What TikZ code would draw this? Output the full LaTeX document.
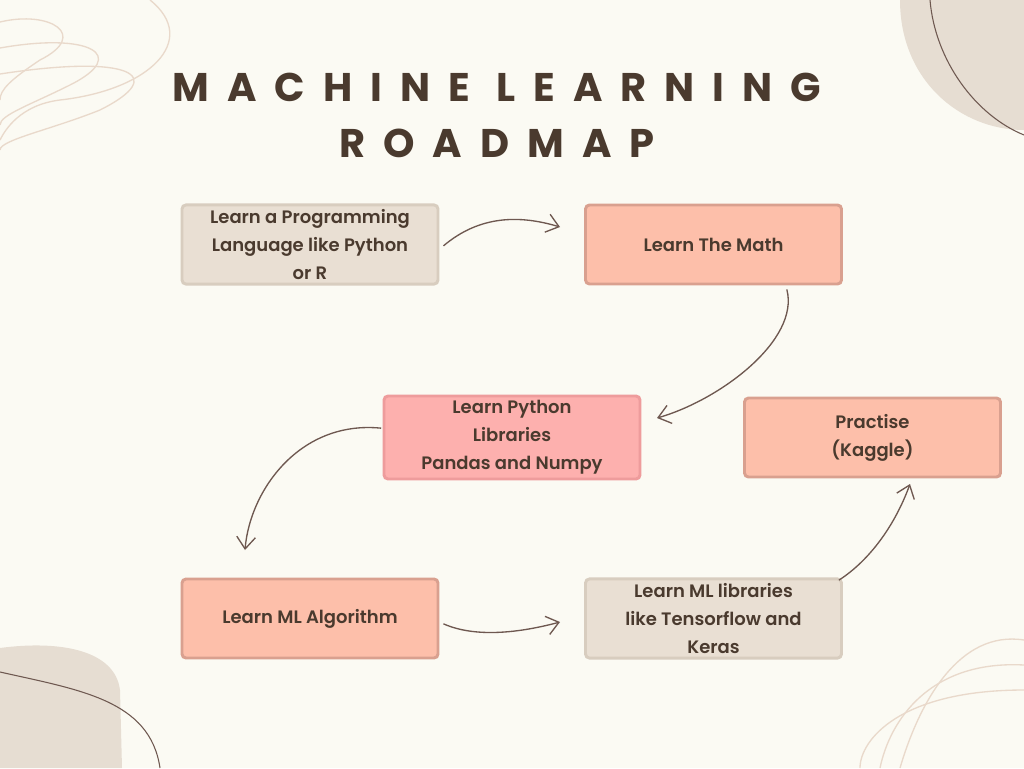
\documentclass[tikz,border=0pt]{standalone}
\usepackage{fontspec}
\setmainfont{Poppins}
\newfontfamily\titlefont[LetterSpace=45]{Poppins Bold}
\newfontfamily\boxfont{Poppins SemiBold}
\usetikzlibrary{arrows.meta}
\definecolor{bg}{HTML}{FBFAF3}
\definecolor{ink}{HTML}{4A3A2E}
\definecolor{beige}{HTML}{E9DFD3}
\definecolor{beigeb}{HTML}{D8CDBF}
\definecolor{salmon}{HTML}{FDBFAA}
\definecolor{salmonb}{HTML}{D9A08F}
\definecolor{pink}{HTML}{FDB0AE}
\definecolor{pinkb}{HTML}{EE9C9C}
\definecolor{arr}{HTML}{6E5850}
\definecolor{deco}{HTML}{E6DDD2}
\definecolor{decol}{HTML}{E9D9CB}
\tikzset{
 box/.style={draw=#1, line width=2.2pt, rounded corners=3pt, minimum width=256*0.75pt, minimum height=79*0.75pt, align=center, text=ink, font=\boxfont\fontsize{13.5}{21}\selectfont},
 conn/.style={draw=arr, line width=1pt, -{Straight Barb[length=9pt,width=14pt]}}
}
\begin{document}
\begin{tikzpicture}[x=0.75pt,y=-0.75pt]
\fill[bg] (0,0) rectangle (1024,768);
\useasboundingbox (0,0) rectangle (1024,768);
% decorations
\begin{scope}
\clip (0,0) rectangle (1024,768);
\fill[deco] (900,0) -- (1024,0) -- (1024,130) .. controls (960,130) and (900,80) .. (900,0) -- cycle;
\draw[arr, line width=0.8pt] (930,0) .. controls (935,60) and (975,115) .. (1024,135);
\fill[deco] (0,648) .. controls (60,640) and (115,650) .. (120,690) -- (122,768) -- (0,768) -- cycle;
\draw[arr, line width=0.8pt] (0,672) .. controls (80,690) and (150,700) .. (160,768);
\foreach \s in {0,1,2}{
 \draw[decol, line width=1pt] (0,{22+\s*26}) .. controls ({50+\s*40},{10+\s*22}) and ({90+\s*40},{35+\s*20}) .. ({40+\s*30},{60+\s*25}) .. controls ({10+\s*20},{80+\s*25}) and (0,{90+\s*25}) .. (0,{100+\s*25});
 \draw[decol, line width=1pt] (1024,{640+\s*25}) .. controls ({960-\s*30},{630+\s*30}) and ({920-\s*30},{700+\s*20}) .. ({900-\s*20},768);
}
\draw[decol, line width=1pt] (150,0) .. controls (200,40) and (150,90) .. (60,100) .. controls (20,105) and (5,130) .. (0,140);
\end{scope}
% title
\node[text=ink, font=\titlefont\fontsize{30}{36}\selectfont] (t1) at (497,87) {MACHINE LEARNING};
\node[text=ink, font=\titlefont\fontsize{30}{36}\selectfont] (t2) at (497,143) {ROADMAP};
% boxes
\node[box=beigeb, fill=beige] (b1) at (310,244.5) {Learn a Programming\\Language like Python\\or R};
\node[box=salmonb, fill=salmon] (b2) at (713.5,244.5) {Learn The Math};
\node[box=pinkb, fill=pink] (b3) at (512,437.5) {Learn Python\\Libraries\\Pandas and Numpy};
\node[box=salmonb, fill=salmon] (b4) at (872.5,437.5) {Practise\\(Kaggle)};
\node[box=salmonb, fill=salmon] (b5) at (310,618.5) {Learn ML Algorithm};
\node[box=beigeb, fill=beige] (b6) at (713.5,618.5) {Learn ML libraries\\like Tensorflow and\\Keras};
% connectors
\coordinate (e1) at (560,227);
\coordinate (e2) at (657,418);
\coordinate (e3) at (245,550);
\coordinate (e4) at (560,622);
\coordinate (e5) at (910,484);
\draw[conn] ([xshift=3pt,yshift=-1pt]b1.east) .. controls (480,215) and (520,215) .. (e1);
\draw[conn] ([xshift=55pt,yshift=-3pt]b2.south) .. controls (800,340) and (720,400) .. (e2);
\draw[conn] ([xshift=-1pt,yshift=7pt]b3.west) .. controls (300,420) and (250,490) .. (e3);
\draw[conn] ([xshift=3pt,yshift=-4pt]b5.east) .. controls (480,640) and (530,630) .. (e4);
\draw[conn] ([xshift=-3pt,yshift=-2pt]b6.north east) .. controls (870,560) and (895,525) .. (e5);
\end{tikzpicture}
\end{document}
